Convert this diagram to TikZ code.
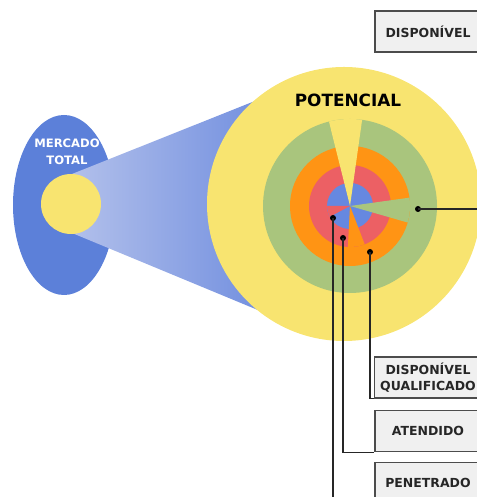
\documentclass[tikz,border=0pt]{standalone}
\usepackage{fontspec}
\setmainfont{DejaVu Sans}
\usepackage{tikz}
\usetikzlibrary{positioning,arrows.meta,calc}
\definecolor{potyellow}{HTML}{F8E470}
\definecolor{dispgreen}{HTML}{A9C57D}
\definecolor{qualorange}{HTML}{FF9414}
\definecolor{atenred}{HTML}{EC6064}
\definecolor{penblue}{HTML}{6688E0}
\definecolor{mktblue}{HTML}{5C80D9}
\definecolor{conelight}{HTML}{B2C0EB}
\definecolor{conedark}{HTML}{6686DD}
\tikzset{
  levelbox/.style={draw=black!70, line width=0.7pt, fill=black!6, minimum width=2.12cm, minimum height=0.82cm, align=center, font=\fontsize{7.1}{9.1}\selectfont\bfseries, text=black!85},
  leveldot/.style={circle, fill=black, inner sep=0pt, minimum size=0.12cm},
  leader/.style={line width=0.6pt, black!85}
}

\begin{document}
\begin{tikzpicture}[>=Latex]
      \clip (0,0) rectangle (9.54,9.94);
      \fill[mktblue] (1.28,5.84) ellipse [x radius=1.02, y radius=1.80];
      \shade[left color=conelight, right color=conedark] (1.44,6.46) -- (6.0,8.28) -- (6.0,3.39) -- (1.44,5.28) -- cycle;
      \fill[potyellow] (1.42,5.86) circle (0.6);
      \node[align=center, text=white, font=\fontsize{6.6}{9.6}\selectfont\bfseries] (mt) at (1.34,6.90) {MERCADO\\TOTAL};
      \fill[potyellow] (6.88,5.86) circle (2.74);
      \node[font=\fontsize{9.6}{11}\selectfont\bfseries] (pot) at (6.96,7.94) {POTENCIAL};
      \coordinate (c) at (7.0,5.82);
      \fill[dispgreen] (c) circle (1.74);
      \fill[qualorange] (c) circle (1.2);
      \fill[atenred] (c) circle (0.82);
      \fill[penblue] (c) circle (0.46);
      \fill[atenred] (c) -- ++(180:0.46) arc (180:208:0.46) -- cycle;
      \fill[qualorange] (c) -- ++(-93:0.82) arc (-93:-69:0.82) -- cycle;
      \fill[dispgreen] (c) -- ++(-16:1.2) arc (-16:8:1.2) -- cycle;
      \fill[potyellow] (c) -- ++(82:1.74) arc (82:104:1.74) -- cycle;
      \node[levelbox] (disp) at (8.56,9.31) {DISPONÍVEL};
      \node[levelbox] (qual) at (8.56,2.39) {DISPONÍVEL\\QUALIFICADO};
      \node[levelbox] (aten) at (8.56,1.32) {ATENDIDO};
      \node[levelbox] (pene) at (8.56,0.28) {PENETRADO};
      \node[leveldot] (gd) at (8.36,5.76) {};
      \node[leveldot] (od) at (7.40,4.90) {};
      \node[leveldot] (rd) at (6.86,5.18) {};
      \node[leveldot] (bd) at (6.66,5.58) {};
      \coordinate (gend) at (9.8,5.76);
      \draw[leader] (gd.center) -- (gend);
      \draw[leader] (od.center) |- (qual.south west);
      \draw[leader] (rd.center) |- (aten.south west);
      \draw[leader] (bd.center) |- (pene.south west);
    \end{tikzpicture}
\end{document}
